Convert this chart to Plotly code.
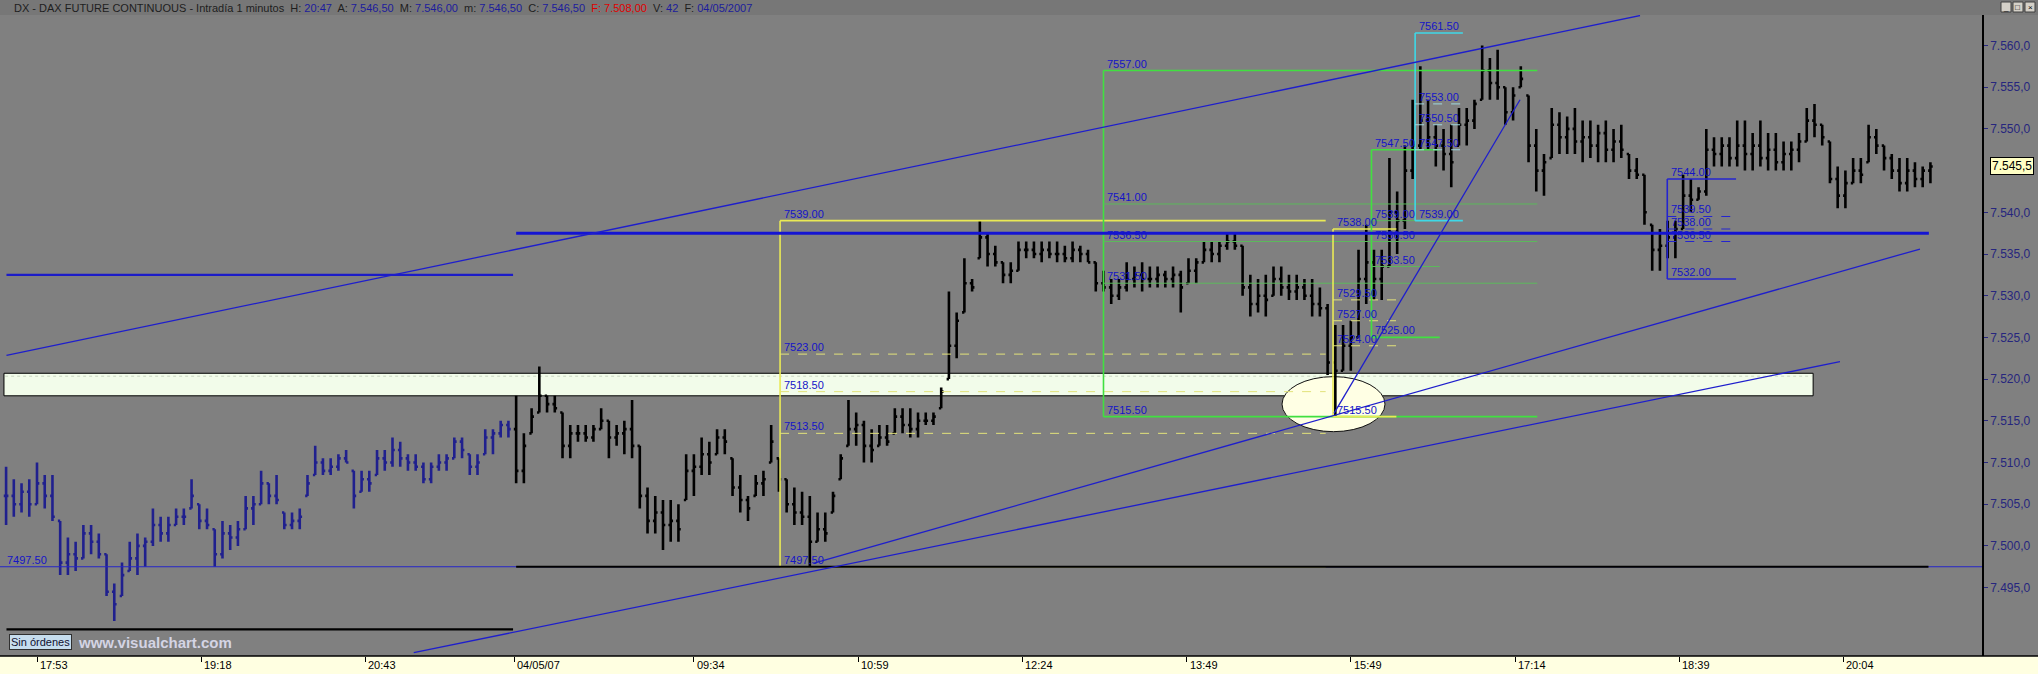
import plotly.graph_objects as go

FONT = "Liberation Sans, Arial, sans-serif"

# ---------------- data ----------------
# 4-minute bars, x = minute index on the chart (17:53 = 0)
bar_start = -16
bar_step = 4
n_prev_session = 66  # bars of the previous session (drawn blue)

highs = [
    7509.5, 7508, 7507.5, 7508, 7510, 7508.5, 7508.5, 7503, 7501, 7500.5,
    7502.5, 7502.5, 7501.5, 7499, 7495.5, 7498, 7500.5, 7501.5, 7501, 7504.5,
    7503.5, 7503.5, 7504.5, 7504.5, 7508, 7505, 7504.5, 7502, 7503, 7502.5,
    7503, 7506, 7506, 7509, 7507.5, 7508.5, 7504, 7504, 7504.5, 7508.5,
    7512, 7510.5, 7510.5, 7511, 7511.5, 7509, 7509, 7509, 7511.5, 7511.5,
    7513, 7512.5, 7511, 7511, 7510, 7510, 7511, 7511, 7513, 7513,
    7511, 7511, 7514, 7514, 7515, 7515,
    # current session
    7518, 7513.5, 7516.5, 7521.5, 7518, 7518, 7516, 7514.5, 7514.5, 7514.5,
    7514.5, 7516.5, 7515, 7514.5, 7515, 7517.5, 7512, 7507, 7506, 7505.5,
    7505.5, 7505, 7511, 7511, 7513, 7512.5, 7514, 7514, 7510.5, 7508.5,
    7506, 7508.5, 7509, 7514.5, 7510.5, 7508, 7507, 7506.5, 7506, 7504,
    7504, 7506.5, 7511, 7517.5, 7516, 7515, 7514, 7514.5, 7514.5, 7516.5,
    7516.5, 7516.5, 7516, 7516, 7516, 7519, 7530.5, 7528, 7534.5, 7532,
    7539, 7537.5, 7536, 7534, 7534, 7536.5, 7536.5, 7536.5, 7536.5, 7536.5,
    7536.5, 7536, 7536.5, 7536, 7535.5, 7534, 7533, 7532, 7532, 7534,
    7533.5, 7534, 7533.5, 7533.5, 7533, 7533.5, 7533, 7534.5, 7534.5, 7536.5,
    7536.5, 7536.5, 7537.5, 7537.5, 7536, 7532.5, 7532, 7532.5, 7533.5, 7533.5,
    7532.5, 7532.5, 7532, 7532, 7531, 7529, 7526.5, 7526.5, 7527, 7535.5,
    7538.5, 7535.5, 7535.5, 7546.5, 7542.5, 7548, 7553.5, 7557.5, 7553.5, 7550.5,
    7550, 7550.5, 7552.5, 7552.5, 7553.5, 7560, 7558.5, 7559.5, 7555, 7555,
    7557.5, 7554, 7550, 7547, 7552.5, 7552, 7551.5, 7552.5, 7551, 7551,
    7550.5, 7551, 7550, 7550.5, 7547, 7546.5, 7544.5, 7538.5, 7538, 7539,
    7539, 7544.5, 7544, 7543, 7550, 7549, 7549, 7549, 7551, 7551,
    7549.5, 7551, 7549.5, 7549.5, 7548.5, 7548.5, 7549.5, 7552.5, 7553, 7550.5,
    7548.5, 7545.5, 7545, 7546.5, 7546.5, 7550.5, 7550, 7548, 7547, 7546.5,
    7546.5, 7546, 7545.5, 7546,
]

lows = [
    7502.5, 7503.5, 7504, 7503.5, 7505, 7504.5, 7503, 7496.5, 7496.5, 7497,
    7498.5, 7499, 7498.5, 7494, 7491, 7494, 7497, 7496.5, 7497.5, 7500,
    7500.5, 7500.5, 7502.5, 7502.5, 7504.5, 7502, 7502, 7497.5, 7498.5, 7499.5,
    7500, 7502, 7502.5, 7505, 7505, 7505, 7502, 7502, 7502, 7506,
    7508.5, 7508.5, 7508.5, 7509, 7510, 7504.5, 7506.5, 7506.5, 7508.5, 7509,
    7509.5, 7509.5, 7509, 7509, 7507.5, 7507.5, 7509, 7509, 7510.5, 7510.5,
    7508.5, 7508.5, 7511, 7511, 7513, 7513,
    # current session
    7507.5, 7507.5, 7513.5, 7516, 7516, 7516, 7510.5, 7510.5, 7512.5, 7512.5,
    7512.5, 7514, 7510.5, 7512, 7511, 7510.5, 7504.5, 7501.5, 7501.5, 7499.5,
    7500.5, 7500.5, 7505.5, 7506, 7508.5, 7508.5, 7511, 7511, 7506, 7504,
    7503, 7506, 7506, 7510, 7506.5, 7504, 7502.5, 7502.5, 7497.5, 7500.5,
    7500.5, 7504, 7508, 7512, 7512, 7510, 7510, 7512, 7512, 7513.5,
    7513.5, 7513, 7513, 7514.5, 7514.5, 7516.5, 7520, 7522.5, 7528, 7530.5,
    7534.5, 7533.5, 7533.5, 7531.5, 7531.5, 7533, 7534.5, 7534.5, 7534, 7534.5,
    7534, 7534, 7534, 7534, 7534, 7530.5, 7530.5, 7529, 7529.5, 7530.5,
    7531, 7530.5, 7531, 7531, 7531, 7531, 7528, 7531.5, 7531.5, 7534,
    7534, 7534, 7535.5, 7535.5, 7530, 7527.5, 7528, 7527.5, 7530, 7530,
    7529.5, 7529.5, 7529.5, 7527.5, 7527.5, 7520.5, 7515.5, 7521, 7521, 7525,
    7529, 7529.5, 7529.5, 7533.5, 7535, 7538, 7544, 7547.5, 7547.5, 7545.5,
    7545, 7543, 7548, 7548, 7550, 7553.5, 7553.5, 7553.5, 7550.5, 7551,
    7555, 7546, 7542.5, 7542, 7546.5, 7547, 7547, 7547, 7546, 7546.5,
    7546, 7546, 7546, 7546.5, 7544, 7544, 7538.5, 7533, 7533, 7534.5,
    7534.5, 7538, 7540, 7541.5, 7542, 7545.5, 7545.5, 7545.5, 7545.5, 7545,
    7545, 7545.5, 7545, 7545, 7545, 7545, 7546, 7548.5, 7549, 7548,
    7543.5, 7540.5, 7540.5, 7543.5, 7543.5, 7546, 7547, 7545, 7544, 7542.5,
    7542.5, 7543, 7543, 7543.5,
]

closes = [
    7506, 7505, 7506.5, 7505, 7507.5, 7506, 7503.5, 7498, 7499, 7498.5,
    7501.5, 7500.5, 7499, 7494.5, 7493, 7496.5, 7498.5, 7500, 7500.5, 7502.5,
    7501.5, 7502.5, 7503.5, 7503.5, 7506, 7503, 7502.5, 7499, 7501.5, 7501,
    7502, 7504.5, 7505, 7507.5, 7506, 7505.5, 7502.5, 7503, 7503.5, 7507.5,
    7510, 7509, 7509.5, 7510.5, 7510, 7506, 7508, 7507.5, 7510.5, 7510,
    7511.5, 7510.5, 7510, 7509.5, 7508, 7509.5, 7510, 7510.5, 7512.5, 7511.5,
    7509.5, 7510, 7513, 7513.5, 7514.5, 7514,
    # current session
    7509, 7512, 7515.5, 7518, 7517, 7516.5, 7512, 7513.5, 7513.5, 7513,
    7514, 7515, 7513, 7513.5, 7514, 7512, 7506, 7503, 7504, 7502.5,
    7503, 7502, 7509, 7509.5, 7511, 7510, 7513, 7512.5, 7507, 7505.5,
    7504.5, 7507.5, 7508, 7512.5, 7508, 7505, 7504, 7503.5, 7500.5, 7502,
    7501.5, 7506, 7510.5, 7514, 7514.5, 7512, 7511.5, 7513, 7512.5, 7515.5,
    7514.5, 7514, 7515, 7515, 7515.5, 7518.5, 7524, 7527, 7531.5, 7531,
    7537, 7535, 7534, 7532.5, 7533, 7535.5, 7535.5, 7535, 7535.5, 7535,
    7535, 7534.5, 7535.5, 7535, 7534, 7531.5, 7531, 7530, 7531, 7532,
    7532.5, 7532, 7532, 7532.5, 7532, 7532.5, 7531, 7533, 7534, 7535.5,
    7535, 7536, 7536.5, 7536, 7531, 7529, 7530, 7529.5, 7532, 7531,
    7530.5, 7531, 7530, 7529, 7528.5, 7522, 7521, 7524, 7525, 7532,
    7534, 7532, 7533.5, 7540, 7539, 7545, 7548, 7551, 7549, 7548,
    7547, 7546, 7550.5, 7551, 7553, 7557, 7555.5, 7555, 7552, 7554,
    7556, 7548, 7545, 7546, 7550.5, 7549, 7550, 7548.5, 7549, 7548,
    7549.5, 7547.5, 7548.5, 7547.5, 7545, 7544.5, 7540, 7535.5, 7536, 7537,
    7538, 7542, 7541.5, 7542.5, 7547.5, 7547, 7548, 7546.5, 7548, 7547,
    7548, 7546.5, 7547.5, 7546, 7547, 7547.5, 7548.5, 7551, 7550.5, 7549,
    7544, 7542, 7543.5, 7545, 7544.5, 7549, 7548, 7546.5, 7545, 7543.5,
    7545, 7544, 7545, 7545.5,
]

time_tick_pos = [0, 85, 170, 247, 340, 425, 510, 595, 680, 765, 850, 935]
time_tick_text = ["17:53", "19:18", "20:43", "04/05/07", "09:34", "10:59",
                  "12:24", "13:49", "15:49", "17:14", "18:39", "20:04"]

# the 7.545,0 label is replaced by the last-price box in the original
price_ticks = [7495, 7500, 7505, 7510, 7515, 7520, 7525, 7530, 7535, 7540,
               7550, 7555, 7560]
price_tick_text = ["7.495,0", "7.500,0", "7.505,0", "7.510,0", "7.515,0",
                   "7.520,0", "7.525,0", "7.530,0", "7.535,0", "7.540,0",
                   "7.550,0", "7.555,0", "7.560,0"]
last_price = 7545.5
last_price_text = "7.545,5"

# drawn levels
support_level = 7497.5
resistance_level = 7537.5
prev_session_level = 7532.5
prev_session_low_level = 7490.0
band_low, band_high = 7518.0, 7520.7

# retracement tools: [high, 38.2, 50, 61.8, low]
fib_yellow_main = [7539.0, 7523.0, 7518.5, 7513.5, 7497.5]
fib_green_a = [7557.0, 7541.0, 7536.5, 7531.5, 7515.5]
fib_yellow_small = [7538.0, 7529.5, 7527.0, 7524.0, 7515.5]
fib_green_b = [7547.5, 7539.0, 7536.5, 7533.5, 7525.0]
fib_cyan = [7561.5, 7553.0, 7550.5, 7547.5, 7539.0]
fib_blue = [7544.0, 7539.5, 7538.0, 7536.5, 7532.0]

# trend lines (x index, price)
upper_channel = [(-15.8, 7522.85), (829.7, 7563.6)]
lower_channel_a = [(402.2, 7497.95), (974.6, 7535.6)]
lower_channel_b = [(195.0, 7487.2), (933.2, 7522.1)]
steep_trend = [(671.3, 7515.9), (767.6, 7553.5)]

# ---------------- figure ----------------
x = [bar_start + bar_step * i for i in range(len(highs))]
opens = []
for i in range(len(closes)):
    prev = closes[i - 1] if i > 0 else closes[0]
    opens.append(min(max(prev, lows[i]), highs[i]))

BLUE_BAR = "#20208e"
BLACK_BAR = "#000000"

fig = go.Figure()
segs = [(0, n_prev_session, BLUE_BAR), (n_prev_session, len(highs), BLACK_BAR)]
for a, b, col in segs:
    fig.add_trace(go.Ohlc(
        x=x[a:b], open=opens[a:b], high=highs[a:b], low=lows[a:b], close=closes[a:b],
        increasing=dict(line=dict(color=col, width=2.6)),
        decreasing=dict(line=dict(color=col, width=2.6)),
        tickwidth=0.3, hoverinfo="skip", showlegend=False,
    ))

shapes = []
annotations = []

X_LEFT, X_RIGHT = -19.15, 1006.7
Y_LOW, Y_HIGH = 7486.8, 7563.66
PLOT_H = 641.0
RIGHT_EXT = 2038.0 / 1982.0

def hline(y, x0, x1, color, width=1, dash="solid", layer="above"):
    shapes.append(dict(type="line", xref="x", yref="y", x0=x0, x1=x1, y0=y, y1=y,
                       line=dict(color=color, width=width, dash=dash), layer=layer))

def seg(p0, p1, color, width=1.2):
    shapes.append(dict(type="line", xref="x", yref="y", x0=p0[0], y0=p0[1], x1=p1[0], y1=p1[1],
                       line=dict(color=color, width=width), layer="above"))

LABEL_BLUE = "#1414c8"

def label(x0, y, text, color=LABEL_BLUE):
    annotations.append(dict(x=x0, y=y, xref="x", yref="y", text=text, showarrow=False,
                            xanchor="left", yanchor="bottom", xshift=2, yshift=-1,
                            font=dict(family=FONT, size=11, color=color)))

# band and ellipse (under the bars)
shapes.append(dict(type="rect", xref="x", yref="y", x0=-17.1, x1=919.3, y0=band_low, y1=band_high,
                   fillcolor="#F2FCEA", line=dict(color="#000000", width=1), layer="below"))
hline(band_high - 0.35, -16.5, 918.5, "#c9d6c0", 1, "dot", layer="below")
shapes.append(dict(type="circle", xref="x", yref="y", x0=644.4, x1=697.7, y0=7513.7, y1=7520.3,
                   fillcolor="#FFFFE4", line=dict(color="#101010", width=1), layer="below"))

# horizontal levels
hline(support_level, X_LEFT, X_RIGHT, "#2424c8", 1.2)
hline(prev_session_low_level, -15.8, 246.4, "#000000", 2.2)
hline(prev_session_level, -15.8, 246.4, "#1c1cc8", 2.2)
label(-17.5, support_level, "7497.50")

# retracement tools
def fib_tool(levels, x0, x1, main_col, mid_col, mid_dash):
    shapes.append(dict(type="line", xref="x", yref="y", x0=x0, x1=x0, y0=levels[0], y1=levels[-1],
                       line=dict(color=main_col, width=1.6), layer="above"))
    hline(levels[0], x0, x1, main_col, 1.6)
    for v in levels[1:-1]:
        hline(v, x0, x1, mid_col, 1, mid_dash)
    hline(levels[-1], x0, x1, main_col, 1.6)
    for v in levels:
        label(x0, v, "%.2f" % v)

fib_tool(fib_yellow_main, 384.6, 667.0, "#EAEA55", "#E2E27A", "dash")
fib_tool(fib_green_a, 552.0, 776.5, "#40E040", "#5cb85c", "solid")
fib_tool(fib_yellow_small, 670.8, 703.6, "#EAEA55", "#E2E27A", "dash")
fib_tool(fib_green_b, 690.7, 726.0, "#40E040", "#5cb85c", "solid")
fib_tool(fib_cyan, 713.3, 738.0, "#3ED8E8", "#9ED8E0", "dash")
fib_tool(fib_blue, 843.8, 879.4, "#2424d0", "#2424d0", "dash")

# thick resistance line and black support line (over the tools)
hline(resistance_level, 248, 979.2, "#1414d2", 3)
hline(support_level, 248, 979, "#000000", 2.2)

# trend lines
for line in (upper_channel, lower_channel_a, lower_channel_b, steep_trend):
    seg(line[0], line[1], "#1e1ecc", 1.3)

# ---- frame pieces in paper coordinates ----
top_h = 15.0 / PLOT_H
bot_h = 18.0 / PLOT_H
shapes.append(dict(type="rect", xref="paper", yref="paper", x0=0, x1=RIGHT_EXT, y0=1, y1=1 + top_h,
                   fillcolor="#777777", line=dict(width=0), layer="below"))
shapes.append(dict(type="rect", xref="paper", yref="paper", x0=0, x1=RIGHT_EXT, y0=-bot_h, y1=0,
                   fillcolor="#FFFFE1", line=dict(width=0), layer="below"))
shapes.append(dict(type="line", xref="paper", yref="paper", x0=0, x1=RIGHT_EXT, y0=0, y1=0,
                   line=dict(color="#000000", width=1.5), layer="above"))
# window buttons (top right)
for i in range(3):
    shapes.append(dict(type="rect", xref="paper", yref="paper",
                       x0=(2001 + i * 12) / 1982.0, x1=(2011 + i * 12) / 1982.0,
                       y0=1 + 3.0 / PLOT_H, y1=1 + 13.0 / PLOT_H,
                       fillcolor="#D4D0C8", line=dict(color="#404040", width=1), layer="above"))
for i, g in enumerate(["_", "□", "×"]):
    annotations.append(dict(x=(2006 + i * 12) / 1982.0, y=1 + 8.0 / PLOT_H, xref="paper", yref="paper",
                            text=g, showarrow=False, xanchor="center", yanchor="middle",
                            font=dict(family=FONT, size=8, color="#000000")))

# time labels (left aligned after the tick)
for p, t in zip(time_tick_pos, time_tick_text):
    annotations.append(dict(x=p, y=0, xref="x", yref="paper", text=t, showarrow=False,
                            xanchor="left", yanchor="middle", xshift=1, yshift=-9,
                            font=dict(family=FONT, size=11, color="#000000")))

# last price box on the axis
annotations.append(dict(x=1, y=last_price, xref="paper", yref="y", text=last_price_text,
                        showarrow=False, xanchor="left", yanchor="middle", xshift=8,
                        bgcolor="#FFFFC4", bordercolor="#000000", borderwidth=1, borderpad=1,
                        font=dict(family=FONT, size=12, color="#000000")))

# header line
lab = "#1e1e1e"
val = "#1c1c9c"
header = (
    "<span style='color:%s'>DX - DAX FUTURE CONTINUOUS - Intradía 1 minutos  H: </span>" % lab
    + "<span style='color:%s'>20:47</span>" % val
    + "<span style='color:%s'>  A: </span><span style='color:%s'>7.546,50</span>" % (lab, val)
    + "<span style='color:%s'>  M: </span><span style='color:%s'>7.546,00</span>" % (lab, val)
    + "<span style='color:%s'>  m: </span><span style='color:%s'>7.546,50</span>" % (lab, val)
    + "<span style='color:%s'>  C: </span><span style='color:%s'>7.546,50</span>" % (lab, val)
    + "<span style='color:#e00000'>  F: 7.508,00</span>"
    + "<span style='color:%s'>  V: </span><span style='color:%s'>42</span>" % (lab, val)
    + "<span style='color:%s'>  F: </span><span style='color:%s'>04/05/2007</span>" % (lab, val)
)
annotations.append(dict(x=0, y=1 + top_h / 2, xref="paper", yref="paper", text=header,
                        showarrow=False, xanchor="left", yanchor="middle", xshift=12,
                        font=dict(family=FONT, size=11, color=lab)))

# bottom-left status and watermark
annotations.append(dict(x=0, y=0, xref="paper", yref="paper", text="Sin órdenes", showarrow=False,
                        xanchor="left", yanchor="middle", xshift=9, yshift=14,
                        bgcolor="#C6DDEE", bordercolor="#303030", borderwidth=1, borderpad=1,
                        font=dict(family=FONT, size=11, color="#101030")))
annotations.append(dict(x=0, y=0, xref="paper", yref="paper", text="<b>www.visualchart.com</b>",
                        showarrow=False, xanchor="left", yanchor="middle", xshift=76, yshift=14,
                        font=dict(family=FONT, size=15, color="#D4D4E4")))

fig.update_layout(
    width=2038, height=674,
    margin=dict(l=0, r=56, t=15, b=18),
    paper_bgcolor="#808080", plot_bgcolor="#808080",
    showlegend=False,
    xaxis=dict(range=[X_LEFT, X_RIGHT], showgrid=False, zeroline=False, showline=False,
               tickvals=time_tick_pos, ticks="outside", ticklen=5, tickcolor="#000000",
               showticklabels=False, rangeslider=dict(visible=False), fixedrange=True),
    yaxis=dict(range=[Y_LOW, Y_HIGH], side="right", showgrid=False, zeroline=False,
               showline=True, linecolor="#000000", linewidth=1.5,
               tickvals=price_ticks, ticktext=price_tick_text, ticks="outside", ticklen=4,
               tickcolor="#2a2a80",
               tickfont=dict(family=FONT, size=12, color="#26267e"), fixedrange=True),
    shapes=shapes,
    annotations=annotations,
)

fig.write_html("out.html", config={"displayModeBar": False},
               post_script="document.body.style.margin='0';document.body.style.overflow='hidden';")
